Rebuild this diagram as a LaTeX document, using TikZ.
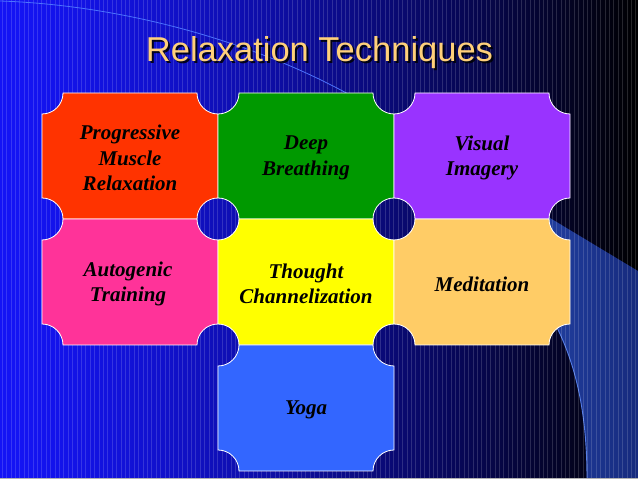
\documentclass[tikz,border=0pt]{standalone}
\usepackage{fontspec}
\setmainfont{Liberation Serif}
\newfontfamily\titlefont{Liberation Sans}
\definecolor{bgleft}{RGB}{20,20,245}
\definecolor{swl}{RGB}{35,66,165}
\definecolor{swr}{RGB}{22,42,125}
\definecolor{swedge}{RGB}{85,125,230}
\definecolor{arcline}{RGB}{75,115,255}
\definecolor{titlecol}{RGB}{255,208,122}
\definecolor{cProg}{RGB}{255,51,0}
\definecolor{cDeep}{RGB}{0,153,0}
\definecolor{cVis}{RGB}{153,51,255}
\definecolor{cAuto}{RGB}{255,51,153}
\definecolor{cThought}{RGB}{255,255,0}
\definecolor{cMed}{RGB}{255,204,102}
\definecolor{cYoga}{RGB}{51,102,255}
\tikzset{
  tilebox/.style={draw=white, line width=0.8pt},
  tiletext/.style={align=center, text=black, inner sep=0pt,
    font=\fontsize{21}{25.5}\selectfont\bfseries\itshape},
  titletext/.style={anchor=base, text=titlecol, inner sep=0pt,
    font=\titlefont\fontsize{34.5}{40}\selectfont},
  titleshadow/.style={anchor=base, text=black, opacity=0.85, inner sep=0pt,
    font=\titlefont\fontsize{34.5}{40}\selectfont},
  stripe/.style={white, opacity=0.15, line width=0.6pt}
}
\newcommand\tileshape[5]{%
  \filldraw[tilebox, fill=#5] ({#1+21},#4) -- ({#3-21},#4)
    arc[start angle=180,end angle=270,radius=21pt] -- (#3,{#2+21})
    arc[start angle=90,end angle=180,radius=21pt] -- ({#1+21},#2)
    arc[start angle=0,end angle=90,radius=21pt] -- (#1,{#4-21})
    arc[start angle=270,end angle=360,radius=21pt] -- cycle;}
\begin{document}
\begin{tikzpicture}[x=1pt,y=1pt]
\useasboundingbox (0,0) rectangle (638,479);
\begin{scope}
\clip (0,0) rectangle (638,479);
% background gradient
\foreach \i in {0,...,145}{
  \pgfmathsetmacro\xx{\i*4.4}
  \pgfmathsetmacro\pp{100*(1-((\xx+2)/640)^1.3)}
  \fill[bgleft!\pp!black] (\xx,0) rectangle ({\xx+4.6},479);
}
% right swoosh
\shade[left color=swl, right color=swr]
  (530,273) -- (638,208) -- (638,0) -- (587,0)
  .. controls (587,69) and (575,119) .. (552,161) -- (530,200) -- cycle;
\draw[swedge, line width=0.9pt] (587,0) .. controls (587,69) and (575,119) .. (552,161);
% stripes
\foreach \i in {0,...,145}{
  \draw[stripe] ({\i*4.4+2},0) -- ({\i*4.4+2},479);
}
% thin arc line top-left
\draw[arcline, line width=0.8pt] (0,478) .. controls (120,474) and (250,439) .. (350,384);
% bottom line
\draw[gray!60, line width=0.8pt] (0,1) -- (638,1);
\end{scope}
% title
\node[titleshadow] (titleshade) at (321.5,415) {Relaxation Techniques};
\node[titletext] (title) at (319.5,417) {Relaxation Techniques};
% tiles
\tileshape{42}{260}{218}{386}{cProg}
\tileshape{218}{260}{394}{386}{cDeep}
\tileshape{394}{260}{570}{386}{cVis}
\tileshape{42}{134}{218}{260}{cAuto}
\tileshape{218}{134}{394}{260}{cThought}
\tileshape{394}{134}{570}{260}{cMed}
\tileshape{218}{8}{394}{134}{cYoga}
% labels
\node[tiletext] (prog) at (130,321) {Progressive\\Muscle\\Relaxation};
\node[tiletext] (deep) at (306,321) {Deep\\Breathing};
\node[tiletext] (vis) at (482,321) {Visual\\Imagery};
\node[tiletext] (auto) at (128,195) {Autogenic\\Training};
\node[tiletext] (thought) at (306,195) {Thought\\Channelization};
\node[tiletext] (med) at (482,195) {Meditation};
\node[tiletext] (yoga) at (306,69) {Yoga};
\end{tikzpicture}
\end{document}
